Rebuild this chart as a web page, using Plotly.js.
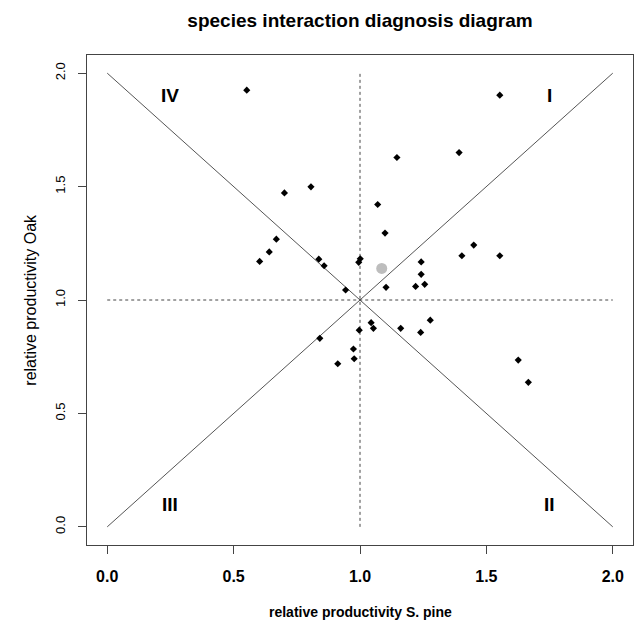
<!DOCTYPE html>
<html>
<head>
<meta charset="utf-8">
<script src="https://cdn.plot.ly/plotly-3.0.1.min.js"></script>
<style>html,body{margin:0;padding:0;background:#fff;}#chart{width:640px;height:623px;}</style>
</head>
<body>
<div id="chart"></div>
<script>
// relative productivity of Scots pine (x) and Oak (y) per plot
var pineRP = [0.552, 0.701, 0.806, 1.070, 0.669, 0.641, 0.603, 0.837, 0.858, 0.995, 1.001, 0.943,
              1.553, 1.392, 1.146, 1.099, 1.242, 1.242, 1.256, 1.220, 1.103, 1.450, 1.403, 1.553,
              0.841, 0.997, 1.044, 1.053, 0.974, 0.977, 0.912, 1.161, 1.278, 1.240, 1.626, 1.666];
var oakRP  = [1.925, 1.472, 1.499, 1.421, 1.268, 1.212, 1.170, 1.180, 1.151, 1.166, 1.182, 1.044,
              1.903, 1.650, 1.628, 1.295, 1.168, 1.113, 1.069, 1.060, 1.056, 1.242, 1.195, 1.195,
              0.831, 0.867, 0.900, 0.875, 0.784, 0.741, 0.719, 0.875, 0.911, 0.857, 0.735, 0.637];
// mean point (grey)
var meanPine = [1.086];
var meanOak  = [1.139];
// reference lines
var diagX    = [0, 2];
var diagUp   = [0, 2];
var diagDown = [2, 0];
var refVal   = 1;
// quadrant labels
var quadLabels = ["I", "II", "III", "IV"];
var quadX = [1.75, 1.75, 0.25, 0.25];
var quadY = [1.9, 0.1, 0.1, 1.9];
// ticks
var tickVals = [0, 0.5, 1, 1.5, 2];
var tickText = ["0.0", "0.5", "1.0", "1.5", "2.0"];

var lineColor = "#555555";
var traces = [
  {x: diagX, y: diagUp, mode: "lines", line: {color: lineColor, width: 1}, hoverinfo: "skip"},
  {x: diagX, y: diagDown, mode: "lines", line: {color: lineColor, width: 1}, hoverinfo: "skip"},
  {x: [refVal, refVal], y: diagX, mode: "lines", line: {color: "#444", width: 1, dash: "3px,3px"}, hoverinfo: "skip"},
  {x: diagX, y: [refVal, refVal], mode: "lines", line: {color: "#444", width: 1, dash: "3px,3px"}, hoverinfo: "skip"},
  {x: pineRP, y: oakRP, mode: "markers", marker: {symbol: "diamond", size: 5.5, color: "#000000"}},
  {x: meanPine, y: meanOak, mode: "markers", marker: {symbol: "circle", size: 11, color: "#bdbdbd"}}
];

var annotations = quadLabels.map(function (t, i) {
  return {x: quadX[i], y: quadY[i], xref: "x", yref: "y", text: t, showarrow: false,
          font: {family: "Liberation Sans, Arial, sans-serif", size: 19, color: "#000", weight: "bold"}};
});
annotations.push({x: 0.5, y: -0.137, xref: "paper", yref: "paper", text: "relative productivity S. pine",
  showarrow: false, xanchor: "center", yanchor: "middle",
  font: {family: "Liberation Sans, Arial, sans-serif", size: 14, color: "#000", weight: "bold"}});
annotations.push({x: -0.105, y: 0.5, xref: "paper", yref: "paper", text: "relative productivity Oak",
  showarrow: false, xanchor: "center", yanchor: "middle", textangle: -90,
  font: {family: "Liberation Sans, Arial, sans-serif", size: 16, color: "#000"}});

var layout = {
  width: 640, height: 623,
  margin: {l: 87, r: 7, t: 55, b: 78},
  paper_bgcolor: "#fff", plot_bgcolor: "#fff",
  showlegend: false,
  title: {text: "species interaction diagnosis diagram", x: 0.5, xref: "paper", y: 1 - 20 / 623, yref: "container",
          xanchor: "center", yanchor: "middle",
          font: {family: "Liberation Sans, Arial, sans-serif", size: 19, color: "#000", weight: "bold"}},
  xaxis: {range: [-0.08, 2.08], tickvals: tickVals, ticktext: tickText, ticks: "outside", ticklen: 8,
          tickcolor: "#444", showline: true, mirror: true, linecolor: "#444", linewidth: 1,
          showgrid: false, zeroline: false, ticklabelstandoff: 9,
          tickfont: {family: "Liberation Sans, Arial, sans-serif", size: 16, color: "#000", weight: "bold"}},
  yaxis: {range: [-0.08, 2.08], tickvals: tickVals, ticktext: tickText, ticks: "outside", ticklen: 8,
          tickcolor: "#444", showline: true, mirror: true, linecolor: "#444", linewidth: 1,
          showgrid: false, zeroline: false, tickangle: -90, ticklabelstandoff: 8,
          tickfont: {family: "Liberation Sans, Arial, sans-serif", size: 13, color: "#000"}},
  annotations: annotations
};

Plotly.newPlot("chart", traces, layout, {displayModeBar: false, staticPlot: true});
</script>
</body>
</html>
